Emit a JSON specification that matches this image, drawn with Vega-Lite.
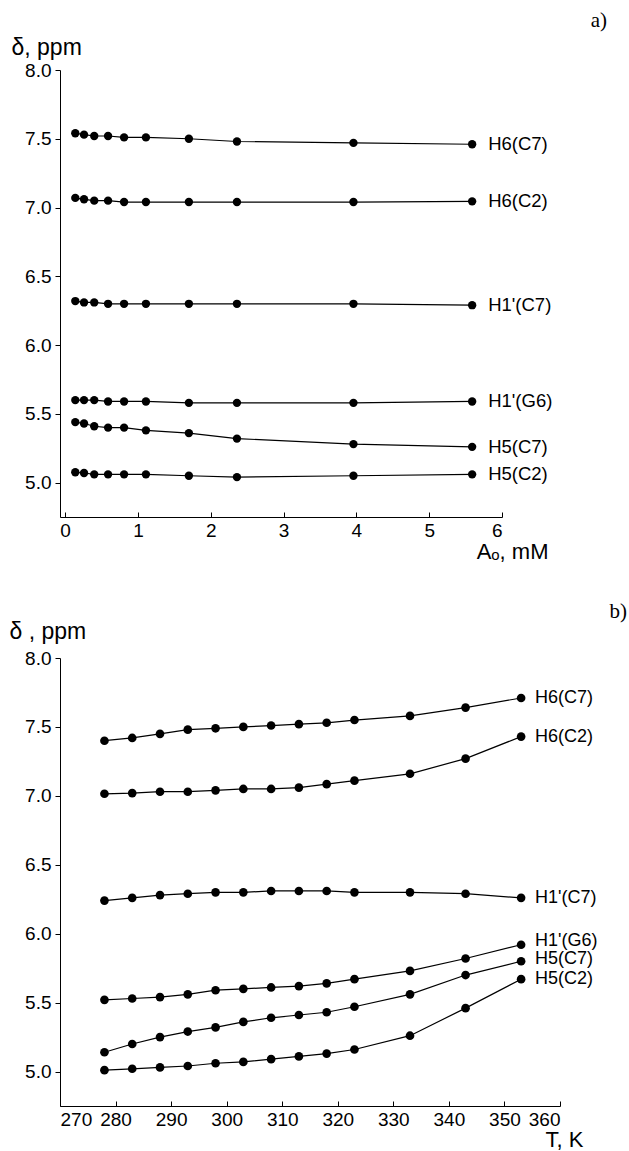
{
 "$schema": "https://vega.github.io/schema/vega-lite/v6.json",
 "padding": {"left": 9, "top": 10, "right": 0, "bottom": 0},
 "background": "white",
 "bounds": "flush",
 "spacing": 141,
 "config": {
  "font": "Liberation Sans",
  "view": {"stroke": null},
  "axis": {"grid": false, "domainColor": "black", "tickColor": "black", "labelColor": "black", "titleColor": "black", "labelFont": "Liberation Sans", "titleFont": "Liberation Sans", "labelFontSize": 19, "titleFontWeight": "normal", "titleFontSize": 23, "domainWidth": 1, "tickWidth": 1}
 },
 "datasets": {
  "a": [
   {"A":0.14,"s":"H6(C7)","d":7.54},{"A":0.26,"s":"H6(C7)","d":7.53},{"A":0.40,"s":"H6(C7)","d":7.52},{"A":0.59,"s":"H6(C7)","d":7.52},{"A":0.81,"s":"H6(C7)","d":7.51},{"A":1.11,"s":"H6(C7)","d":7.51},{"A":1.70,"s":"H6(C7)","d":7.50},{"A":2.36,"s":"H6(C7)","d":7.48},{"A":3.96,"s":"H6(C7)","d":7.47},{"A":5.59,"s":"H6(C7)","d":7.46},
   {"A":0.14,"s":"H6(C2)","d":7.07},{"A":0.26,"s":"H6(C2)","d":7.06},{"A":0.40,"s":"H6(C2)","d":7.05},{"A":0.59,"s":"H6(C2)","d":7.05},{"A":0.81,"s":"H6(C2)","d":7.04},{"A":1.11,"s":"H6(C2)","d":7.04},{"A":1.70,"s":"H6(C2)","d":7.04},{"A":2.36,"s":"H6(C2)","d":7.04},{"A":3.96,"s":"H6(C2)","d":7.04},{"A":5.59,"s":"H6(C2)","d":7.045},
   {"A":0.14,"s":"H1'(C7)","d":6.32},{"A":0.26,"s":"H1'(C7)","d":6.31},{"A":0.40,"s":"H1'(C7)","d":6.31},{"A":0.59,"s":"H1'(C7)","d":6.30},{"A":0.81,"s":"H1'(C7)","d":6.30},{"A":1.11,"s":"H1'(C7)","d":6.30},{"A":1.70,"s":"H1'(C7)","d":6.30},{"A":2.36,"s":"H1'(C7)","d":6.30},{"A":3.96,"s":"H1'(C7)","d":6.30},{"A":5.59,"s":"H1'(C7)","d":6.29},
   {"A":0.14,"s":"H1'(G6)","d":5.60},{"A":0.26,"s":"H1'(G6)","d":5.60},{"A":0.40,"s":"H1'(G6)","d":5.60},{"A":0.59,"s":"H1'(G6)","d":5.59},{"A":0.81,"s":"H1'(G6)","d":5.59},{"A":1.11,"s":"H1'(G6)","d":5.59},{"A":1.70,"s":"H1'(G6)","d":5.58},{"A":2.36,"s":"H1'(G6)","d":5.58},{"A":3.96,"s":"H1'(G6)","d":5.58},{"A":5.59,"s":"H1'(G6)","d":5.59},
   {"A":0.14,"s":"H5(C7)","d":5.44},{"A":0.26,"s":"H5(C7)","d":5.43},{"A":0.40,"s":"H5(C7)","d":5.41},{"A":0.59,"s":"H5(C7)","d":5.40},{"A":0.81,"s":"H5(C7)","d":5.40},{"A":1.11,"s":"H5(C7)","d":5.38},{"A":1.70,"s":"H5(C7)","d":5.36},{"A":2.36,"s":"H5(C7)","d":5.32},{"A":3.96,"s":"H5(C7)","d":5.28},{"A":5.59,"s":"H5(C7)","d":5.26},
   {"A":0.14,"s":"H5(C2)","d":5.075},{"A":0.26,"s":"H5(C2)","d":5.07},{"A":0.40,"s":"H5(C2)","d":5.06},{"A":0.59,"s":"H5(C2)","d":5.06},{"A":0.81,"s":"H5(C2)","d":5.06},{"A":1.11,"s":"H5(C2)","d":5.06},{"A":1.70,"s":"H5(C2)","d":5.05},{"A":2.36,"s":"H5(C2)","d":5.04},{"A":3.96,"s":"H5(C2)","d":5.05},{"A":5.59,"s":"H5(C2)","d":5.06}
  ],
  "b": [
   {"T":278,"s":"H6(C7)","d":7.40},{"T":283,"s":"H6(C7)","d":7.42},{"T":288,"s":"H6(C7)","d":7.45},{"T":293,"s":"H6(C7)","d":7.48},{"T":298,"s":"H6(C7)","d":7.49},{"T":303,"s":"H6(C7)","d":7.50},{"T":308,"s":"H6(C7)","d":7.51},{"T":313,"s":"H6(C7)","d":7.52},{"T":318,"s":"H6(C7)","d":7.53},{"T":323,"s":"H6(C7)","d":7.55},{"T":333,"s":"H6(C7)","d":7.58},{"T":343,"s":"H6(C7)","d":7.64},{"T":353,"s":"H6(C7)","d":7.71},
   {"T":278,"s":"H6(C2)","d":7.015},{"T":283,"s":"H6(C2)","d":7.02},{"T":288,"s":"H6(C2)","d":7.03},{"T":293,"s":"H6(C2)","d":7.03},{"T":298,"s":"H6(C2)","d":7.04},{"T":303,"s":"H6(C2)","d":7.05},{"T":308,"s":"H6(C2)","d":7.05},{"T":313,"s":"H6(C2)","d":7.06},{"T":318,"s":"H6(C2)","d":7.085},{"T":323,"s":"H6(C2)","d":7.11},{"T":333,"s":"H6(C2)","d":7.16},{"T":343,"s":"H6(C2)","d":7.27},{"T":353,"s":"H6(C2)","d":7.43},
   {"T":278,"s":"H1'(C7)","d":6.24},{"T":283,"s":"H1'(C7)","d":6.26},{"T":288,"s":"H1'(C7)","d":6.28},{"T":293,"s":"H1'(C7)","d":6.29},{"T":298,"s":"H1'(C7)","d":6.30},{"T":303,"s":"H1'(C7)","d":6.30},{"T":308,"s":"H1'(C7)","d":6.31},{"T":313,"s":"H1'(C7)","d":6.31},{"T":318,"s":"H1'(C7)","d":6.31},{"T":323,"s":"H1'(C7)","d":6.30},{"T":333,"s":"H1'(C7)","d":6.30},{"T":343,"s":"H1'(C7)","d":6.29},{"T":353,"s":"H1'(C7)","d":6.26},
   {"T":278,"s":"H1'(G6)","d":5.52},{"T":283,"s":"H1'(G6)","d":5.53},{"T":288,"s":"H1'(G6)","d":5.54},{"T":293,"s":"H1'(G6)","d":5.56},{"T":298,"s":"H1'(G6)","d":5.59},{"T":303,"s":"H1'(G6)","d":5.60},{"T":308,"s":"H1'(G6)","d":5.61},{"T":313,"s":"H1'(G6)","d":5.62},{"T":318,"s":"H1'(G6)","d":5.64},{"T":323,"s":"H1'(G6)","d":5.67},{"T":333,"s":"H1'(G6)","d":5.73},{"T":343,"s":"H1'(G6)","d":5.82},{"T":353,"s":"H1'(G6)","d":5.92},
   {"T":278,"s":"H5(C7)","d":5.14},{"T":283,"s":"H5(C7)","d":5.20},{"T":288,"s":"H5(C7)","d":5.25},{"T":293,"s":"H5(C7)","d":5.29},{"T":298,"s":"H5(C7)","d":5.32},{"T":303,"s":"H5(C7)","d":5.36},{"T":308,"s":"H5(C7)","d":5.39},{"T":313,"s":"H5(C7)","d":5.41},{"T":318,"s":"H5(C7)","d":5.43},{"T":323,"s":"H5(C7)","d":5.47},{"T":333,"s":"H5(C7)","d":5.56},{"T":343,"s":"H5(C7)","d":5.70},{"T":353,"s":"H5(C7)","d":5.80},
   {"T":278,"s":"H5(C2)","d":5.01},{"T":283,"s":"H5(C2)","d":5.02},{"T":288,"s":"H5(C2)","d":5.03},{"T":293,"s":"H5(C2)","d":5.04},{"T":298,"s":"H5(C2)","d":5.06},{"T":303,"s":"H5(C2)","d":5.07},{"T":308,"s":"H5(C2)","d":5.09},{"T":313,"s":"H5(C2)","d":5.11},{"T":318,"s":"H5(C2)","d":5.13},{"T":323,"s":"H5(C2)","d":5.16},{"T":333,"s":"H5(C2)","d":5.26},{"T":343,"s":"H5(C2)","d":5.46},{"T":353,"s":"H5(C2)","d":5.67}
  ]
 },
 "vconcat": [
  {
   "width": 442, "height": 447,
   "title": {"text": "a)", "anchor": "end", "frame": "group", "dx": 105, "offset": -12, "baseline": "alphabetic", "font": "Liberation Serif", "fontSize": 21, "fontWeight": "normal", "color": "black"},
   "data": {"name": "a"},
   "encoding": {
    "x": {"field": "A", "type": "quantitative", "scale": {"domain": [-0.07, 6], "nice": false, "zero": false},
     "axis": {"values": [0,1,2,3,4,5,6], "format": "d", "title": "Aₒ, mM", "titleAngle": 0, "titleAlign": "right", "titleX": 488, "titleY": 41, "titleBaseline": "alphabetic", "titleFontSize": 22, "tickSize": -5, "labelPadding": 9}},
    "y": {"field": "d", "type": "quantitative", "scale": {"domain": [4.75, 8], "nice": false, "zero": false},
     "axis": {"values": [5,5.5,6,6.5,7,7.5,8], "format": ".1f", "title": "δ, ppm", "titleAngle": 0, "titleAlign": "left", "titleX": -49, "titleY": -16, "titleBaseline": "alphabetic", "tickSize": 5, "labelPadding": 4}}
   },
   "layer": [
    {"mark": {"type": "line", "color": "black", "strokeWidth": 1.2}, "encoding": {"detail": {"field": "s"}}},
    {"mark": {"type": "point", "filled": true, "color": "black", "size": 70, "opacity": 1}, "encoding": {"detail": {"field": "s"}}},
    {"transform": [{"joinaggregate": [{"op": "max", "field": "A", "as": "mx"}], "groupby": ["s"]}, {"filter": "datum.A === datum.mx"}],
     "mark": {"type": "text", "align": "left", "baseline": "middle", "dx": 16, "fontSize": 18.5, "font": "Liberation Sans", "color": "black"},
     "encoding": {"text": {"field": "s"}}}
   ]
  },
  {
   "width": 500, "height": 448,
   "title": {"text": "b)", "anchor": "end", "frame": "group", "dx": 67, "offset": -19, "baseline": "alphabetic", "font": "Liberation Serif", "fontSize": 21, "fontWeight": "normal", "color": "black"},
   "data": {"name": "b"},
   "encoding": {
    "x": {"field": "T", "type": "quantitative", "scale": {"domain": [270, 360], "nice": false, "zero": false},
     "axis": {"values": [270,280,290,300,310,320,330,340,350,360], "format": "d", "title": "T, K", "titleAngle": 0, "titleAlign": "right", "titleX": 523, "titleY": 40, "titleBaseline": "alphabetic", "titleFontSize": 22, "tickSize": -5, "labelPadding": 9}},
    "y": {"field": "d", "type": "quantitative", "scale": {"domain": [4.75, 8], "nice": false, "zero": false},
     "axis": {"values": [5,5.5,6,6.5,7,7.5,8], "format": ".1f", "title": "δ , ppm", "titleAngle": 0, "titleAlign": "left", "titleX": -51, "titleY": -20, "titleBaseline": "alphabetic", "tickSize": 5, "labelPadding": 4}}
   },
   "layer": [
    {"mark": {"type": "line", "color": "black", "strokeWidth": 1.2}, "encoding": {"detail": {"field": "s"}}},
    {"mark": {"type": "point", "filled": true, "color": "black", "size": 75, "opacity": 1}, "encoding": {"detail": {"field": "s"}}},
    {"transform": [{"joinaggregate": [{"op": "max", "field": "T", "as": "mx"}], "groupby": ["s"]}, {"filter": "datum.T === datum.mx && datum.s !== \"H1'(G6)\" && datum.s !== \"H5(C7)\""}],
     "mark": {"type": "text", "align": "left", "baseline": "middle", "dx": 14, "fontSize": 18, "font": "Liberation Sans", "color": "black"},
     "encoding": {"text": {"field": "s"}}},
    {"transform": [{"joinaggregate": [{"op": "max", "field": "T", "as": "mx"}], "groupby": ["s"]}, {"filter": "datum.T === datum.mx && datum.s === \"H5(C7)\""}],
     "mark": {"type": "text", "align": "left", "baseline": "middle", "dx": 14, "dy": -2, "fontSize": 18, "font": "Liberation Sans", "color": "black"},
     "encoding": {"text": {"field": "s"}}},
    {"transform": [{"joinaggregate": [{"op": "max", "field": "T", "as": "mx"}], "groupby": ["s"]}, {"filter": "datum.T === datum.mx && datum.s === \"H1'(G6)\""}],
     "mark": {"type": "text", "align": "left", "baseline": "middle", "dx": 14, "dy": -4, "fontSize": 18, "font": "Liberation Sans", "color": "black"},
     "encoding": {"text": {"field": "s"}}}
   ]
  }
 ]
}
